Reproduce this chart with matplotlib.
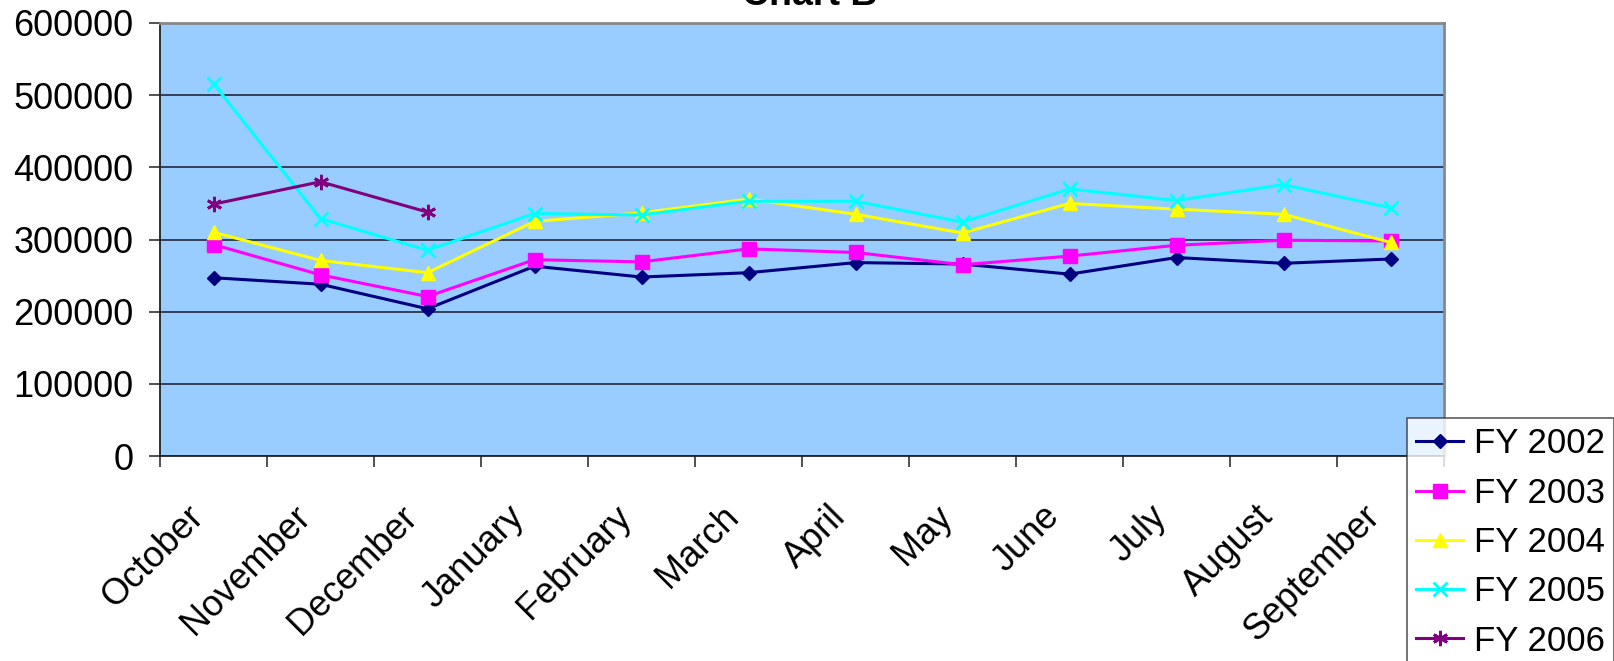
import numpy as np
import matplotlib
matplotlib.use("Agg")
import matplotlib.pyplot as plt
import matplotlib.transforms as mtransforms

plt.rcParams['font.family'] = ['Liberation Sans', 'DejaVu Sans']

# monthly totals by fiscal year (Oct -> Sep)
months = ["October", "November", "December", "January", "February", "March",
          "April", "May", "June", "July", "August", "September"]
fy2002 = [247000, 238000, 204000, 263000, 248000, 254000, 268000, 266000, 252000, 275000, 267000, 273000]
fy2003 = [293000, 251000, 221000, 272000, 269000, 287000, 282000, 265000, 277000, 292000, 299000, 298000]
fy2004 = [310000, 271000, 254000, 325000, 337000, 356000, 335000, 309000, 350000, 342000, 335000, 296000]
fy2005 = [516000, 329000, 285000, 336000, 334000, 353000, 353000, 324000, 370000, 354000, 376000, 344000]
fy2006 = [349000, 380000, 338000]

series = [
    ("FY 2002", fy2002, "#000080", "D", 7.5),
    ("FY 2003", fy2003, "#FF00FF", "s", 9.5),
    ("FY 2004", fy2004, "#FFFF00", "^", 10.5),
    ("FY 2005", fy2005, "#00FFFF", "x", 10),
    ("FY 2006", fy2006, "#800080", (6, 2, 0), 11),
]

fig = plt.figure(figsize=(16.14, 6.61), dpi=100)
ax = fig.add_axes([160 / 1614, 1 - 456 / 661, 1284 / 1614, 433 / 661])
ax.set_facecolor("#99CCFF")

x = np.arange(len(months))
for name, vals, col, mk, ms in series:
    ax.plot(x[:len(vals)], vals, color=col, marker=mk, markersize=ms,
            markeredgewidth=2 if mk in ("x", (6, 2, 0)) else 1,
            linewidth=2.2, label=name, zorder=3)

ax.set_xlim(-0.5, len(months) - 0.5)
ax.set_ylim(0, 600000)
ax.set_yticks(np.arange(0, 600001, 100000))
ax.yaxis.grid(True, color="#1a1a2e", linewidth=1.1)
ax.set_axisbelow(True)

# labels at category centres, tick marks on the boundaries
ax.set_xticks(x)
ax.set_xticks(np.arange(-0.5, len(months)), minor=True)
ax.set_xticklabels(months, rotation=45, ha="right", fontsize=26)
ax.tick_params(axis="x", which="major", length=0, pad=31)
ax.tick_params(axis="x", which="minor", length=8, width=1.2, color="#333333")
ax.tick_params(axis="y", length=8, width=1.2, color="#333333", labelsize=26, pad=11)
shift = mtransforms.ScaledTranslation(-3 / 100, 0, fig.dpi_scale_trans)
for lbl in ax.get_xticklabels():
    lbl.set_transform(lbl.get_transform() + shift)

for side in ("left", "bottom"):
    ax.spines[side].set_color("#222222")
    ax.spines[side].set_linewidth(1.3)
for side in ("top", "right"):
    ax.spines[side].set_color("#888888")
    ax.spines[side].set_linewidth(2)

fig.text(810 / 1614, 1 - 5 / 661, "Chart B", ha="center", va="baseline",
         fontsize=27, fontweight="bold")

leg = ax.legend(loc="upper left", bbox_to_anchor=(1407 / 1614, 1 - 418 / 661),
                bbox_transform=fig.transFigure, borderaxespad=0, fontsize=25,
                frameon=True, fancybox=False, edgecolor="#333333",
                handlelength=1.35, handletextpad=0.3, labelspacing=0.47,
                borderpad=0.27)
leg.get_frame().set_linewidth(1.2)

fig.savefig("out.png", dpi=100)
